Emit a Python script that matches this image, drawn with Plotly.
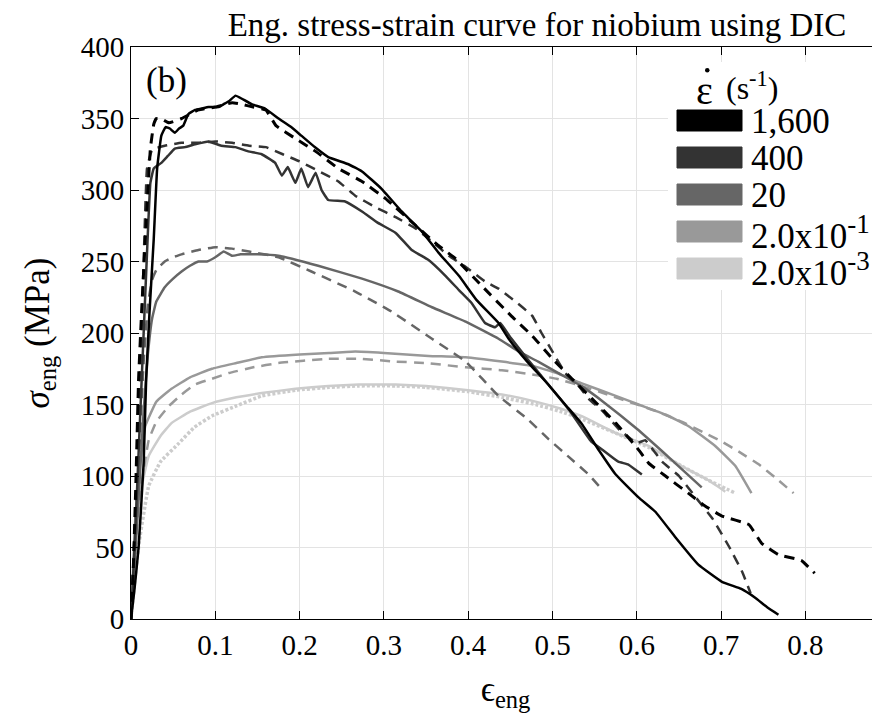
import plotly.graph_objects as go

# ---------------- data ----------------
rate_labels = ["1,600", "400", "20", "2.0x10<sup>-1</sup>", "2.0x10<sup>-3</sup>"]
rate_colors = ["#000000", "#333333", "#666666", "#999999", "#cccccc"]

# 1,600 /s
eps_1600_s = [0, 0.004, 0.009, 0.015, 0.018, 0.022, 0.027, 0.031, 0.036, 0.041, 0.046, 0.052, 0.057,
              0.062, 0.068, 0.076, 0.084, 0.092, 0.104, 0.11, 0.116, 0.124, 0.131, 0.143, 0.159, 0.175,
              0.19, 0.202, 0.218, 0.234, 0.258, 0.274, 0.297, 0.321, 0.345, 0.365, 0.389, 0.41, 0.436,
              0.448, 0.47, 0.495, 0.515, 0.534, 0.555, 0.575, 0.602, 0.622, 0.646, 0.673, 0.701, 0.724,
              0.74, 0.755, 0.768]
sig_1600_s = [0, 20, 50, 109, 168, 215, 266, 315, 338, 344, 343, 340, 343, 345, 353, 356, 357, 358,
              358, 360, 362, 366, 364, 360, 357, 350, 344, 338, 330, 323, 318, 313, 301, 285, 271, 256,
              240, 223, 207, 196, 180, 164, 150, 137, 118, 101, 85, 75, 57, 38, 26, 21, 15, 8, 3]
eps_1600_d = [0, 0.003, 0.006, 0.009, 0.013, 0.017, 0.023, 0.027, 0.03, 0.035, 0.045, 0.06, 0.08, 0.1,
              0.12, 0.131, 0.145, 0.16, 0.172, 0.195, 0.219, 0.246, 0.274, 0.302, 0.338, 0.365, 0.385,
              0.416, 0.451, 0.476, 0.5, 0.523, 0.547, 0.575, 0.6, 0.614, 0.634, 0.661, 0.681, 0.701,
              0.733, 0.748, 0.768, 0.795, 0.811]
sig_1600_d = [0, 40, 100, 168, 220, 266, 329, 346, 350, 350, 347, 350, 356, 358, 361, 360, 358, 356,
              345, 336, 327, 315, 306, 294, 275, 261, 252, 233, 212, 198, 182, 168, 154, 137, 120, 109,
              100, 88, 79, 72, 66, 53, 45, 41, 32]

# 400 /s
eps_400_s = [0, 0.005, 0.01, 0.015, 0.02, 0.023, 0.027, 0.036, 0.044, 0.052, 0.064, 0.076, 0.092, 0.107,
             0.124, 0.139, 0.155, 0.171, 0.179, 0.186, 0.195, 0.202, 0.21, 0.219, 0.226, 0.234, 0.254,
             0.274, 0.293, 0.314, 0.333, 0.353, 0.373, 0.389, 0.404, 0.42, 0.432, 0.438, 0.45, 0.47,
             0.495, 0.52, 0.546, 0.56, 0.578, 0.59, 0.606]
sig_400_s = [0, 60, 130, 200, 270, 305, 315, 319, 324, 329, 330, 332, 334, 331, 330, 327, 325, 319, 310,
             316, 305, 315, 302, 312, 300, 293, 292, 285, 277, 270, 258, 251, 240, 230, 221, 207, 204,
             207, 197, 182, 164, 146, 124, 118, 110, 108, 101]
eps_400_d = [0, 0.005, 0.01, 0.015, 0.019, 0.025, 0.04, 0.06, 0.08, 0.1, 0.12, 0.14, 0.16, 0.18, 0.2,
             0.22, 0.246, 0.266, 0.29, 0.314, 0.338, 0.357, 0.377, 0.4, 0.42, 0.436, 0.456, 0.476, 0.487,
             0.5, 0.515, 0.531, 0.543, 0.56, 0.58, 0.6, 0.61, 0.63, 0.65, 0.67, 0.69, 0.71, 0.725, 0.735]
sig_400_d = [0, 70, 150, 250, 315, 328, 331, 333, 333, 334, 333, 331, 330, 325, 320, 314, 306, 296, 288,
             281, 273, 264, 254, 245, 236, 231, 222, 212, 200, 187, 172, 163, 154, 145, 132, 123, 125,
             110, 100, 85, 70, 50, 33, 18]

# 20 /s
eps_20_s = [0, 0.005, 0.01, 0.015, 0.02, 0.025, 0.03, 0.04, 0.05, 0.06, 0.07, 0.08, 0.09, 0.1, 0.11, 0.12,
            0.13, 0.15, 0.175, 0.222, 0.274, 0.317, 0.357, 0.397, 0.436, 0.46, 0.483, 0.507, 0.534,
            0.56, 0.6, 0.64, 0.677]
sig_20_s = [0, 45, 95, 145, 185, 210, 222, 232, 238, 243, 247, 250, 250, 253, 257, 254, 255, 255, 254,
            247, 238, 229, 218, 208, 196, 187, 180, 172, 163, 152, 133, 112, 92]
eps_20_d = [0, 0.005, 0.01, 0.015, 0.02, 0.025, 0.03, 0.04, 0.05, 0.06, 0.08, 0.1, 0.12, 0.14, 0.175,
            0.214, 0.266, 0.309, 0.357, 0.397, 0.436, 0.47, 0.495, 0.52, 0.543, 0.555]
sig_20_d = [0, 60, 120, 180, 220, 237, 244, 250, 253, 255, 258, 260, 259, 257, 253, 243, 229, 215, 196,
            180, 156, 140, 126, 113, 101, 93]

# 2.0x10^-1 /s
eps_02_s = [0, 0.005, 0.01, 0.017, 0.03, 0.048, 0.07, 0.096, 0.125, 0.155, 0.2, 0.235, 0.266, 0.3, 0.353,
            0.397, 0.44, 0.476, 0.505, 0.534, 0.575, 0.602, 0.634, 0.661, 0.693, 0.717, 0.736]
sig_02_s = [0, 70, 105, 135, 152, 161, 169, 175, 179, 183, 185, 186, 187, 186, 184, 183, 180, 177, 172,
            165, 156, 150, 143, 135, 121, 107, 88]
eps_02_d = [0, 0.005, 0.01, 0.021, 0.03, 0.045, 0.06, 0.076, 0.096, 0.116, 0.145, 0.175, 0.234, 0.27,
            0.314, 0.35, 0.397, 0.44, 0.476, 0.505, 0.534, 0.56, 0.59, 0.62, 0.653, 0.681, 0.701, 0.721,
            0.745, 0.764, 0.786]
sig_02_d = [0, 50, 85, 125, 138, 149, 157, 164, 168, 172, 176, 179, 182, 182, 180, 179, 176, 174, 171,
            168, 163, 158, 152, 146, 138, 130, 124, 117, 108, 99, 88]

# 2.0x10^-3 /s
eps_0002_s = [0, 0.005, 0.01, 0.021, 0.035, 0.048, 0.07, 0.096, 0.125, 0.155, 0.195, 0.234, 0.27, 0.314,
              0.35, 0.4, 0.44, 0.48, 0.51, 0.534, 0.575, 0.614, 0.653, 0.685, 0.705]
sig_0002_s = [0, 55, 85, 114, 128, 137, 145, 151, 155, 158, 161, 163, 164, 164, 163, 160, 157, 152, 147,
              142, 130, 121, 107, 97, 89]
eps_0002_d = [0, 0.005, 0.01, 0.021, 0.035, 0.057, 0.075, 0.096, 0.125, 0.155, 0.195, 0.235, 0.27, 0.314,
              0.35, 0.4, 0.44, 0.48, 0.51, 0.534, 0.575, 0.614, 0.653, 0.685, 0.717]
sig_0002_d = [0, 30, 55, 93, 110, 123, 134, 142, 149, 156, 160, 162, 163, 163, 162, 159, 155, 150, 145,
              140, 130, 120, 107, 97, 88]

x_ticks = [0, 0.1, 0.2, 0.3, 0.4, 0.5, 0.6, 0.7, 0.8]
y_ticks = [0, 50, 100, 150, 200, 250, 300, 350, 400]

# ---------------- figure ----------------
SERIF = "Liberation Serif, Times New Roman, serif"
OFF = 8  # page body margin (px) that shifts the figure inside the browser window
fig = go.Figure()

series = [
    (eps_0002_s, sig_0002_s, 4, "solid", 2.5),
    (eps_0002_d, sig_0002_d, 4, "3px,2px", 3.5),
    (eps_02_s, sig_02_s, 3, "solid", 2.5),
    (eps_02_d, sig_02_d, 3, "10px,7px", 2.5),
    (eps_20_s, sig_20_s, 2, "solid", 2.5),
    (eps_20_d, sig_20_d, 2, "10px,7px", 2.5),
    (eps_400_s, sig_400_s, 1, "solid", 2.5),
    (eps_400_d, sig_400_d, 1, "10px,7px", 2.5),
    (eps_1600_s, sig_1600_s, 0, "solid", 2.5),
    (eps_1600_d, sig_1600_d, 0, "10px,7px", 3),
]
for x, y, ci, dash, w in series:
    fig.add_trace(go.Scatter(x=x, y=y, mode="lines", showlegend=False,
                             line=dict(color=rate_colors[ci], width=w, dash=dash, shape="spline", smoothing=0.3)))

# plot-area geometry in window px
L, R, T, B = 131, 880, 47, 619
def px(xp):
    return (xp - L) / (R - L)
def py(yp):
    return (B - yp) / (B - T)

shapes = [dict(type="rect", xref="paper", yref="paper", x0=px(668), x1=px(884), y0=py(290), y1=py(62),
               fillcolor="white", line=dict(width=0), layer="above")]
annotations = []
for i, (lab, col) in enumerate(zip(rate_labels, rate_colors)):
    yc = 120.5 + 37 * i
    shapes.append(dict(type="rect", xref="paper", yref="paper", x0=px(677), x1=px(742),
                       y0=py(yc + 10.5), y1=py(yc - 10.5), fillcolor=col,
                       line=dict(color=col, width=1), layer="above"))
    text = lab.replace("<sup>", "<sup><span style='font-size:27px'>").replace("</sup>", "</span></sup>")
    annotations.append(dict(xref="paper", yref="paper", x=px(749), y=py(yc + 1), text=text, showarrow=False,
                            xanchor="left", yanchor="middle", font=dict(family=SERIF, size=35, color="black")))

# legend title: epsilon-dot (s^-1); the overdot is drawn as a small filled circle
annotations.append(dict(xref="paper", yref="paper", x=px(694), y=py(91), text="ε", showarrow=False,
                        xanchor="left", yanchor="middle", font=dict(family=SERIF, size=40, color="black")))
shapes.append(dict(type="circle", xref="paper", yref="paper", x0=px(705), x1=px(709.5), y0=py(72.5), y1=py(68),
                   fillcolor="black", line=dict(color="black", width=0), layer="above"))
annotations.append(dict(xref="paper", yref="paper", x=px(724), y=py(86), text="(s<sup>-1</sup>)",
                        showarrow=False, xanchor="left", yanchor="middle",
                        font=dict(family=SERIF, size=32, color="black")))
annotations.append(dict(xref="paper", yref="paper", x=px(144), y=py(80), text="(b)", showarrow=False,
                        xanchor="left", yanchor="middle", font=dict(family=SERIF, size=35, color="black")))

fig.update_layout(
    width=880, height=724,
    margin=dict(l=L - OFF, r=880 - (R - OFF), t=T - OFF, b=724 - (B - OFF)),
    paper_bgcolor="white", plot_bgcolor="white",
    font=dict(family=SERIF, size=29, color="black"),
    title=dict(text="Eng. stress-strain curve for niobium using DIC", x=(537 - OFF) / 880, xanchor="center",
               y=1 - (24 - OFF) / 724, yanchor="middle", font=dict(family=SERIF, size=33, color="black")),
    xaxis=dict(range=[0, (R - L) / 843], tickvals=x_ticks, ticktext=[f"{v:g}" for v in x_ticks],
               ticks="inside", ticklen=8, tickcolor="black", showline=True, linecolor="black", linewidth=1,
               mirror="ticks", showgrid=True, gridcolor="#e3e3e3", gridwidth=1, zeroline=False,
               title=dict(text="ϵ<sub>eng</sub>", standoff=16, font=dict(family=SERIF, size=35))),
    yaxis=dict(range=[0, 400], tickvals=y_ticks, ticks="inside", ticklen=8, tickcolor="black",
               showline=True, linecolor="black", linewidth=1, mirror=False,
               showgrid=True, gridcolor="#e3e3e3", gridwidth=1, zeroline=False,
               title=dict(text="<i>σ</i><sub>eng</sub> (MPa)", standoff=20, font=dict(family=SERIF, size=35))),
    shapes=shapes, annotations=annotations,
)

fig.write_html("out.html")
